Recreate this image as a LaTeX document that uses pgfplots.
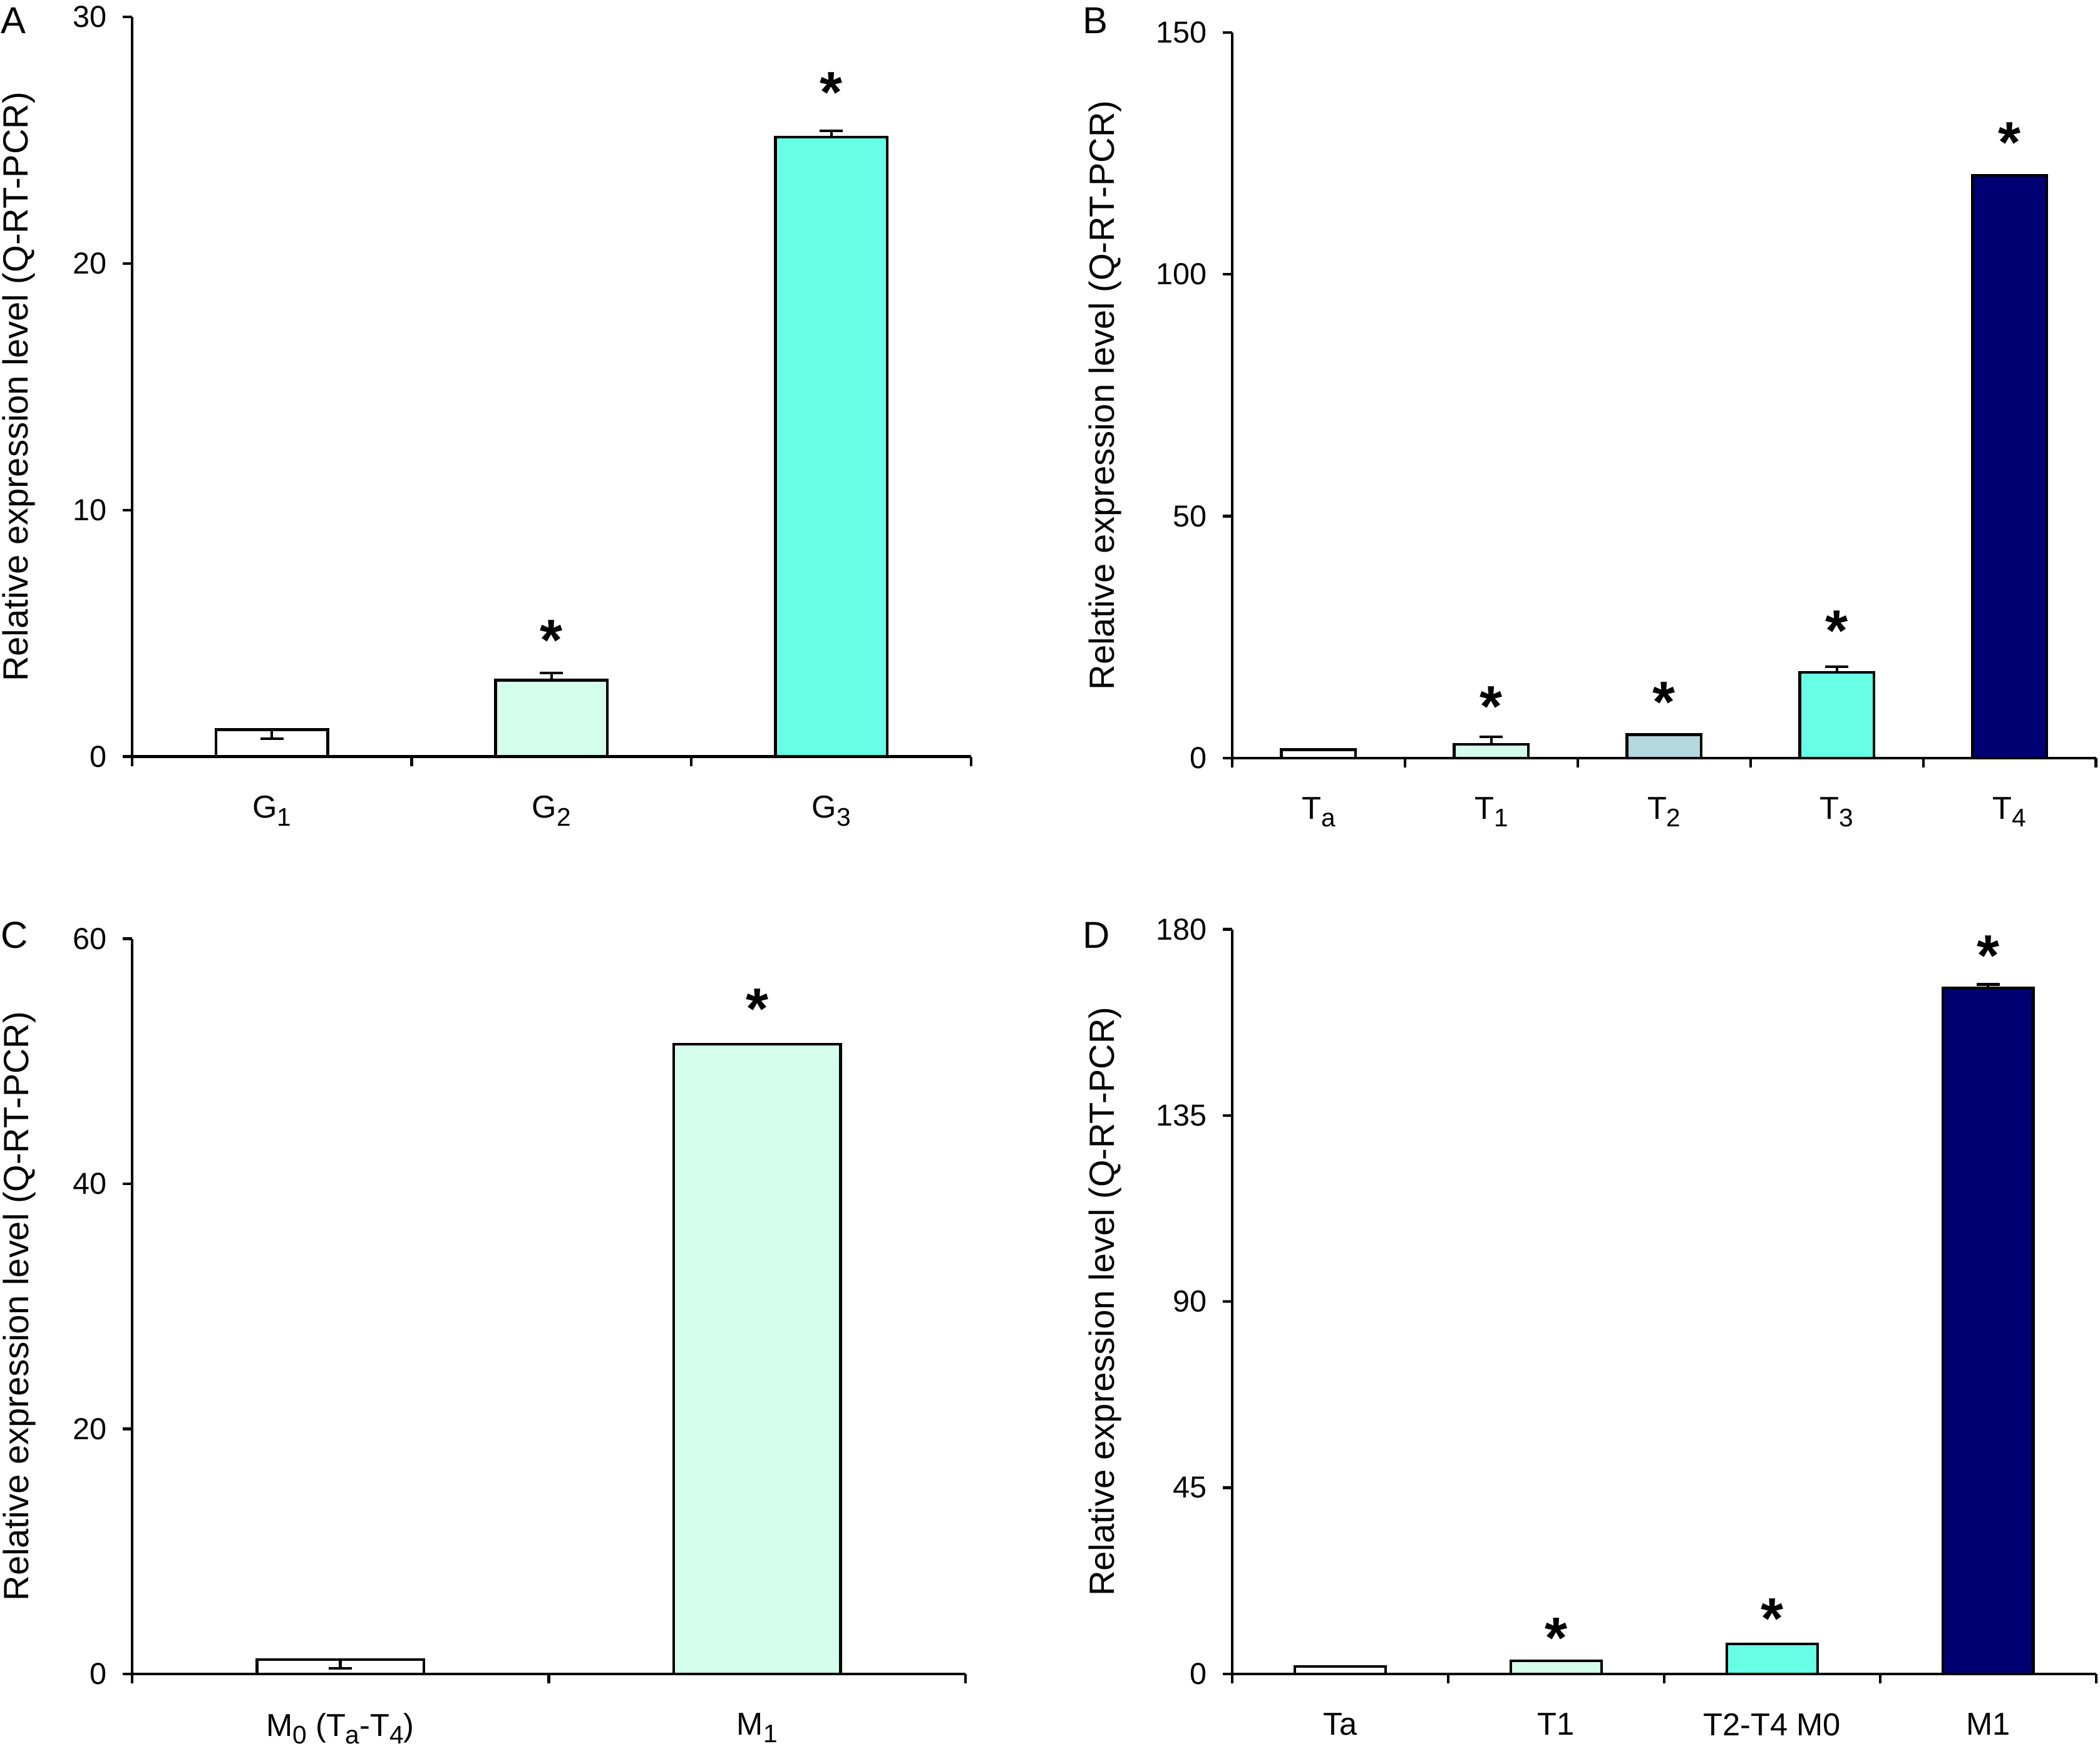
\documentclass[border=0pt]{standalone}
\usepackage{pgfplots}
\pgfplotsset{compat=1.18}
\usepackage{fontspec}
\setmainfont{Liberation Sans}
\newcommand{\sub}[1]{\raisebox{-1.7pt}{\fontsize{5.7}{6}\selectfont #1}}
\definecolor{mint}{RGB}{212,253,236}
\definecolor{cyanb}{RGB}{102,255,230}
\definecolor{lblue}{RGB}{181,215,224}
\definecolor{navyb}{RGB}{0,0,115}
\pgfplotsset{
  panel/.style={
    scale only axis, anchor=south west,
    axis lines=left, axis line style={-, line width=0.6pt},
    tick align=outside, major tick length=2.1pt,
    tick style={black, line width=0.6pt},
    ymin=0, xmin=-0.5,
    x tick label as interval,
    xticklabel style={font=\fontsize{7.1}{8}\selectfont, yshift=-3.2pt},
    yticklabel style={font=\fontsize{6.8}{8}\selectfont},
    /pgf/number format/assume math mode=true,
    clip=false,
    ylabel={Relative expression level (Q-RT-PCR)},
    every axis y label/.style={rotate=90, anchor=center, font=\fontsize{7.85}{9}\selectfont},
  },
  mybar/.style={ybar, bar shift=0pt, draw=black, line width=0.6pt,
    error bars/y explicit,
    error bars/error bar style={line width=0.6pt},
    error bars/error mark options={rotate=90, mark size=2.6pt, line width=0.6pt}},
  stars/.style={only marks, mark=text, text mark as node=true,
    text mark={\fontsize{13}{13}\selectfont\bfseries *},
    text mark style={inner sep=0pt, yshift=-2.8pt}},
}
\begin{document}
\begin{tikzpicture}
\useasboundingbox (0,0) rectangle (470.4pt,394.4pt);
% Panel A
\begin{axis}[panel, at={(29.55pt,224.9pt)}, width=188pt, height=165.7pt,
  xmax=2.5, ymax=30, ytick={0,10,20,30},
  xtick={-0.5,0.5,1.5,2.5},
  xticklabels={G\sub{1},G\sub{2},G\sub{3}},
  ylabel style={at={(axis description cs:-0.1346,0.5)}}]
\addplot[mybar, bar width=0.40, fill=white, error bars/y dir=minus] coordinates {(0,1.09) +- (0,0.36)};
\addplot[mybar, bar width=0.40, fill=mint, error bars/y dir=plus] coordinates {(1,3.10) +- (0,0.29)};
\addplot[mybar, bar width=0.40, fill=cyanb, error bars/y dir=plus] coordinates {(2,25.13) +- (0,0.25)};
\addplot[stars] coordinates {(1,5.24) (2,27.45)};
\end{axis}
% Panel B
\begin{axis}[panel, at={(276pt,224.6pt)}, width=193.5pt, height=162.5pt,
  xmax=4.5, ymax=150, ytick={0,50,100,150},
  xtick={-0.5,0.5,1.5,2.5,3.5,4.5},
  xticklabels={T\sub{a},T\sub{1},T\sub{2},T\sub{3},T\sub{4}},
  ylabel style={at={(axis description cs:-0.147,0.5)}}]
\addplot[mybar, bar width=0.43, fill=white] coordinates {(0,1.7)};
\addplot[mybar, bar width=0.43, fill=mint, error bars/y dir=plus] coordinates {(1,2.85) +- (0,1.55)};
\addplot[mybar, bar width=0.43, fill=lblue] coordinates {(2,4.8)};
\addplot[mybar, bar width=0.43, fill=cyanb, error bars/y dir=plus] coordinates {(3,17.7) +- (0,1.2)};
\addplot[mybar, bar width=0.43, fill=navyb] coordinates {(4,120.5)};
\addplot[stars] coordinates {(1,13.2) (2,14.1) (3,28.9) (4,129.8)};
\end{axis}
% Panel C
\begin{axis}[panel, at={(29.55pt,19.4pt)}, width=186.75pt, height=164.7pt,
  xmax=1.5, ymax=60, ytick={0,20,40,60},
  xtick={-0.5,0.5,1.5},
  xticklabels={M\sub{0} (T\sub{a}-T\sub{4}),M\sub{1}},
  ylabel style={at={(axis description cs:-0.135,0.5)}}]
\addplot[mybar, bar width=0.40, fill=white, error bars/y dir=minus] coordinates {(0,1.15) +- (0,0.69)};
\addplot[mybar, bar width=0.40, fill=mint] coordinates {(1,51.4)};
\addplot[stars] coordinates {(1,55.3)};
\end{axis}
% Panel D
\begin{axis}[panel, at={(276pt,19.4pt)}, width=193.5pt, height=166.8pt,
  xmax=3.5, ymax=180, ytick={0,45,90,135,180},
  xtick={-0.5,0.5,1.5,2.5,3.5},
  xticklabels={Ta,T1,T2-T4 M0,M1},
  ylabel style={at={(axis description cs:-0.147,0.5)}}]
\addplot[mybar, bar width=0.42, fill=white] coordinates {(0,1.77)};
\addplot[mybar, bar width=0.42, fill=mint] coordinates {(1,3.1)};
\addplot[mybar, bar width=0.42, fill=cyanb] coordinates {(2,7.2)};
\addplot[mybar, bar width=0.42, fill=navyb, error bars/y dir=plus] coordinates {(3,165.9) +- (0,0.8)};
\addplot[stars] coordinates {(1,11.7) (2,16.4) (3,176.7)};
\end{axis}
\node[anchor=north west, inner sep=0pt, font=\fontsize{8.4}{9}\selectfont] at (0pt,392.9pt) {A};
\node[anchor=north west, inner sep=0pt, font=\fontsize{8.4}{9}\selectfont] at (242.4pt,392.9pt) {B};
\node[anchor=north west, inner sep=0pt, font=\fontsize{8.4}{9}\selectfont] at (0pt,188pt) {C};
\node[anchor=north west, inner sep=0pt, font=\fontsize{8.4}{9}\selectfont] at (242.4pt,188pt) {D};
\end{tikzpicture}
\end{document}
